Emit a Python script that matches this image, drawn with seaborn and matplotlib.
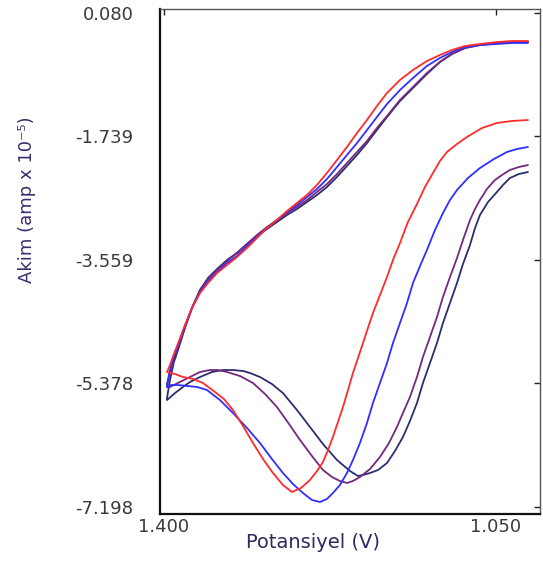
import matplotlib
matplotlib.use("Agg")
import matplotlib.pyplot as plt
import seaborn as sns
import pandas as pd

# ---- data (potential in V, current in amp x 1e-5) ----
# reverse (lower) branches, right -> left
red_rev_v = [1.0163, 1.0331, 1.0490, 1.0648, 1.0806, 1.0911, 1.1017, 1.1091, 1.1164, 1.1249, 1.1333, 1.1428,
             1.1512, 1.1586, 1.1649, 1.1723, 1.1797, 1.1850, 1.1902, 1.1955, 1.2008, 1.2060, 1.2113, 1.2166,
             1.2219, 1.2271, 1.2324, 1.2387, 1.2461, 1.2556, 1.2651, 1.2746, 1.2851, 1.2956, 1.3062, 1.3167,
             1.3273, 1.3368, 1.3462, 1.3589, 1.3694, 1.3800, 1.3884, 1.3968]
red_rev_i = [-1.504, -1.518, -1.548, -1.622, -1.754, -1.857, -1.975, -2.108, -2.284, -2.491, -2.741, -3.006,
             -3.316, -3.566, -3.817, -4.082, -4.347, -4.568, -4.789, -5.010, -5.231, -5.481, -5.732, -5.953,
             -6.174, -6.365, -6.542, -6.675, -6.807, -6.925, -6.984, -6.881, -6.704, -6.498, -6.262, -6.012,
             -5.776, -5.614, -5.511, -5.378, -5.319, -5.290, -5.246, -5.216]

blue_rev_v = [1.0163, 1.0279, 1.0384, 1.0521, 1.0669, 1.0795, 1.0911, 1.0985, 1.1059, 1.1143, 1.1228, 1.1301,
              1.1375, 1.1438, 1.1512, 1.1586, 1.1649, 1.1723, 1.1797, 1.1860, 1.1934, 1.2008, 1.2071, 1.2145,
              1.2219, 1.2282, 1.2356, 1.2440, 1.2535, 1.2640, 1.2746, 1.2862, 1.2988, 1.3125, 1.3273, 1.3410,
              1.3547, 1.3652, 1.3758, 1.3853, 1.3937, 1.3968]
blue_rev_i = [-1.901, -1.931, -1.975, -2.078, -2.211, -2.358, -2.535, -2.682, -2.874, -3.124, -3.419, -3.655,
              -3.905, -4.200, -4.494, -4.789, -5.084, -5.378, -5.673, -5.967, -6.262, -6.513, -6.704, -6.881,
              -6.999, -7.087, -7.131, -7.102, -6.999, -6.866, -6.704, -6.498, -6.262, -6.041, -5.820, -5.629,
              -5.481, -5.437, -5.422, -5.408, -5.408, -5.437]

purple_rev_v = [1.0163, 1.0258, 1.0353, 1.0437, 1.0511, 1.0595, 1.0669, 1.0721, 1.0774, 1.0848, 1.0911, 1.0985,
                1.1059, 1.1122, 1.1196, 1.1270, 1.1333, 1.1407, 1.1481, 1.1544, 1.1628, 1.1723, 1.1828, 1.1934,
                1.2008, 1.2071, 1.2145, 1.2229, 1.2324, 1.2440, 1.2566, 1.2682, 1.2809, 1.2935, 1.3062, 1.3199,
                1.3336, 1.3431, 1.3515, 1.3620, 1.3726, 1.3831, 1.3937, 1.3968]
purple_rev_i = [-2.167, -2.196, -2.240, -2.314, -2.388, -2.520, -2.682, -2.815, -2.977, -3.272, -3.537, -3.817,
                -4.111, -4.406, -4.701, -4.995, -5.290, -5.584, -5.820, -6.026, -6.262, -6.468, -6.645, -6.763,
                -6.822, -6.851, -6.822, -6.763, -6.660, -6.454, -6.218, -5.982, -5.732, -5.540, -5.378, -5.275,
                -5.216, -5.187, -5.187, -5.216, -5.290, -5.363, -5.437, -5.437]

navy_rev_v = [1.0163, 1.0258, 1.0353, 1.0426, 1.0490, 1.0584, 1.0669, 1.0721, 1.0774, 1.0848, 1.0911, 1.0985,
              1.1059, 1.1122, 1.1196, 1.1270, 1.1333, 1.1407, 1.1481, 1.1565, 1.1649, 1.1744, 1.1828, 1.1902,
              1.1955, 1.2039, 1.2176, 1.2324, 1.2461, 1.2598, 1.2746, 1.2862, 1.2988, 1.3093, 1.3167, 1.3273,
              1.3378, 1.3494, 1.3620, 1.3726, 1.3800, 1.3884, 1.3968]
navy_rev_i = [-2.270, -2.299, -2.358, -2.461, -2.564, -2.712, -2.903, -3.095, -3.345, -3.625, -3.905, -4.200,
              -4.494, -4.789, -5.084, -5.378, -5.673, -5.938, -6.174, -6.380, -6.557, -6.660, -6.704, -6.734,
              -6.748, -6.675, -6.513, -6.277, -6.026, -5.776, -5.526, -5.393, -5.290, -5.231, -5.201, -5.187,
              -5.187, -5.216, -5.290, -5.363, -5.437, -5.526, -5.629]

# forward (upper) branches, left -> right, shared potential grid
fwd_v = [1.3968, 1.3937, 1.3895, 1.3842, 1.3779, 1.3705, 1.3620, 1.3536, 1.3441, 1.3336, 1.3231, 1.3125,
         1.3020, 1.2914, 1.2809, 1.2703, 1.2598, 1.2493, 1.2387, 1.2282, 1.2176, 1.2071, 1.1965, 1.1860,
         1.1755, 1.1649, 1.1512, 1.1375, 1.1228, 1.1091, 1.0964, 1.0827, 1.0669, 1.0490, 1.0331, 1.0163]
red_fwd_i = [-5.216, -5.113, -4.951, -4.760, -4.524, -4.273, -4.052, -3.905, -3.758, -3.640, -3.522, -3.389,
             -3.242, -3.095, -2.977, -2.844, -2.726, -2.609, -2.461, -2.284, -2.093, -1.901, -1.695, -1.504,
             -1.297, -1.106, -0.914, -0.767, -0.635, -0.546, -0.472, -0.414, -0.384, -0.355, -0.340, -0.340]
blue_fwd_i = [-5.408, -5.187, -4.980, -4.789, -4.538, -4.273, -4.038, -3.876, -3.743, -3.610, -3.507, -3.360,
              -3.227, -3.095, -2.977, -2.859, -2.756, -2.638, -2.520, -2.373, -2.196, -2.019, -1.843, -1.651,
              -1.460, -1.268, -1.062, -0.885, -0.708, -0.590, -0.502, -0.428, -0.399, -0.384, -0.369, -0.369]
purple_fwd_i = [-5.408, -5.216, -5.010, -4.804, -4.553, -4.273, -4.008, -3.846, -3.714, -3.581, -3.463, -3.330,
                -3.198, -3.080, -2.977, -2.874, -2.785, -2.682, -2.564, -2.447, -2.299, -2.137, -1.975, -1.813,
                -1.622, -1.445, -1.209, -1.018, -0.811, -0.649, -0.531, -0.443, -0.399, -0.369, -0.355, -0.355]
navy_fwd_i = [-5.599, -5.334, -5.069, -4.848, -4.568, -4.273, -4.008, -3.831, -3.699, -3.566, -3.463, -3.330,
              -3.213, -3.110, -3.006, -2.903, -2.815, -2.712, -2.609, -2.491, -2.343, -2.181, -2.019, -1.843,
              -1.651, -1.460, -1.224, -1.032, -0.826, -0.649, -0.531, -0.443, -0.399, -0.369, -0.355, -0.355]

series_names = ["navy", "purple", "blue", "red"]
series_colors = ["#2b2e6e", "#74297e", "#2f2fff", "#ff2b2b"]

x_ticks = [1.400, 1.050]
x_ticklabels = ["1.400", "1.050"]
y_ticks = [0.080, -1.739, -3.559, -5.378, -7.198]
y_ticklabels = ["0.080", "-1.739", "-3.559", "-5.378", "-7.198"]

# ---- build long table ----
loops = {
    "navy": (navy_rev_v + fwd_v, navy_rev_i + navy_fwd_i),
    "purple": (purple_rev_v + fwd_v, purple_rev_i + purple_fwd_i),
    "blue": (blue_rev_v + fwd_v, blue_rev_i + blue_fwd_i),
    "red": (red_rev_v + fwd_v, red_rev_i + red_fwd_i),
}
frames = []
for name in series_names:
    v, i = loops[name]
    frames.append(pd.DataFrame({"potential": v, "current": i, "series": name}))
df = pd.concat(frames, ignore_index=True)

sns.set_theme(style="white")
plt.rcParams["font.family"] = ["DejaVu Sans"]
plt.rcParams["axes.unicode_minus"] = False

fig = plt.figure(figsize=(5.43, 5.61), dpi=100)
ax = fig.add_axes([160 / 543, 1 - 514 / 561, 380 / 543, 505 / 561])

sns.lineplot(data=df, x="potential", y="current", hue="series", hue_order=series_names,
             palette=dict(zip(series_names, series_colors)), sort=False, estimator=None,
             units="series", linewidth=1.3, legend=False, ax=ax)
for line in ax.get_lines():
    line.set_solid_joinstyle("round")

ax.set_xlim(1.4042, 1.0036)
ax.set_ylim(-7.308, 0.1316)
ax.set_xticks(x_ticks, labels=x_ticklabels)
ax.set_yticks(y_ticks, labels=y_ticklabels)
ax.tick_params(axis="both", direction="in", length=4, width=1.0, colors="#222222",
               top=True, right=True, labelsize=13, labelcolor="#3a3a3a")
ax.tick_params(axis="y", pad=19)
ax.tick_params(axis="x", pad=3)

for side in ["left", "bottom"]:
    ax.spines[side].set_linewidth(1.6)
    ax.spines[side].set_color("#111111")
for side in ["top", "right"]:
    ax.spines[side].set_linewidth(1.0)
    ax.spines[side].set_color("#555555")

ax.set_xlabel("Potansiyel (V)", fontsize=14, color="#2b2b5e")
ax.set_ylabel("Akim (amp x 10⁻⁵)", fontsize=13, color="#3a2d6e")
ax.xaxis.set_label_coords((313 - 160) / 380, -(543 - 514) / 505)
ax.yaxis.set_label_coords((27 - 160) / 380, 1 - (200 - 9) / 505)
ax.xaxis.label.set_verticalalignment("center")
ax.yaxis.label.set_verticalalignment("center")
ax.grid(False)

fig.savefig("out.png", dpi=100)
